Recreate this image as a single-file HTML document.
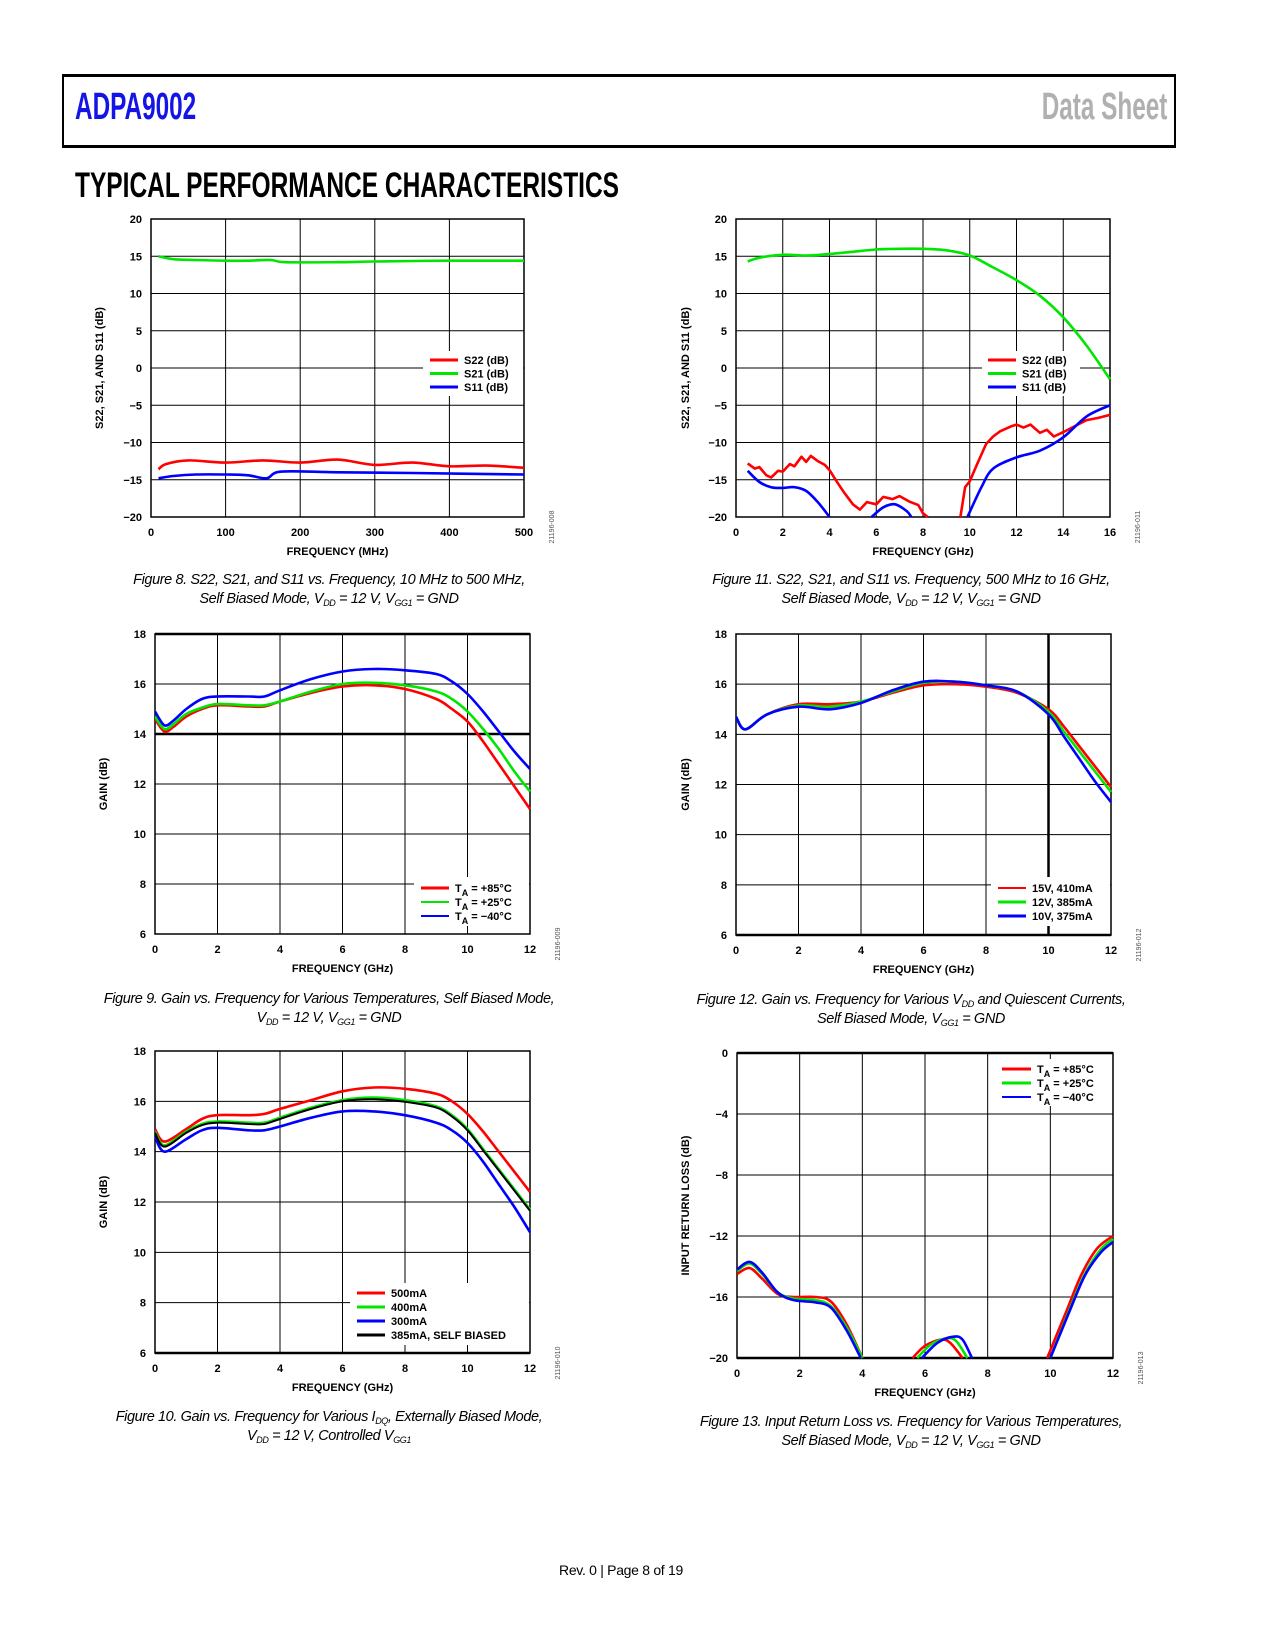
<!DOCTYPE html>
<html><head><meta charset="utf-8">
<style>
body{margin:0;background:#fff;}
#page{position:relative;width:1275px;height:1650px;overflow:hidden;background:#fff;font-family:"Liberation Sans",sans-serif;}
.hdr{position:absolute;left:62px;top:74px;width:1110px;height:68px;border:3px solid #000;border-left-width:2px;border-right-width:2px;}
.cond{display:inline-block;transform-origin:left center;font-weight:bold;}
.cap{position:absolute;width:560px;text-align:center;font-family:"Liberation Sans",sans-serif;font-style:italic;font-size:14.5px;line-height:18.5px;letter-spacing:-0.4px;color:#000;}
.cap sub{font-size:9px;vertical-align:-3px;line-height:0;}
svg text{font-family:"Liberation Sans",sans-serif;}
</style></head><body>
<div id="page">
<div class="hdr"></div>
<div style="position:absolute;left:75px;top:86px;font-size:38px;color:#1414e6;"><span class="cond" style="transform:scaleX(0.64);">ADPA9002</span></div>
<div style="position:absolute;right:108px;top:86px;font-size:38px;color:#b0b0b0;"><span class="cond" style="transform:scaleX(0.64);transform-origin:right center;">Data Sheet</span></div>
<div style="position:absolute;left:75px;top:166px;font-size:35px;color:#000;white-space:nowrap;"><span class="cond" style="transform:scaleX(0.70);">TYPICAL PERFORMANCE CHARACTERISTICS</span></div>

<svg id="charts" width="1275" height="1650" style="position:absolute;left:0;top:0;"></svg>

<div class="cap" style="left:49px;top:571px;">Figure 8. S22, S21, and S11 vs. Frequency, 10 MHz to 500 MHz,<br>Self Biased Mode, V<sub>DD</sub> = 12 V, V<sub>GG1</sub> = GND</div>
<div class="cap" style="left:631px;top:571px;">Figure 11. S22, S21, and S11 vs. Frequency, 500 MHz to 16 GHz,<br>Self Biased Mode, V<sub>DD</sub> = 12 V, V<sub>GG1</sub> = GND</div>
<div class="cap" style="left:49px;top:990px;">Figure 9. Gain vs. Frequency for Various Temperatures, Self Biased Mode,<br>V<sub>DD</sub> = 12 V, V<sub>GG1</sub> = GND</div>
<div class="cap" style="left:631px;top:991px;">Figure 12. Gain vs. Frequency for Various V<sub>DD</sub> and Quiescent Currents,<br>Self Biased Mode, V<sub>GG1</sub> = GND</div>
<div class="cap" style="left:49px;top:1408px;">Figure 10. Gain vs. Frequency for Various I<sub>DQ</sub>, Externally Biased Mode,<br>V<sub>DD</sub> = 12 V, Controlled V<sub>GG1</sub></div>
<div class="cap" style="left:631px;top:1413px;">Figure 13. Input Return Loss vs. Frequency for Various Temperatures,<br>Self Biased Mode, V<sub>DD</sub> = 12 V, V<sub>GG1</sub> = GND</div>
<div style="position:absolute;left:0;width:1242px;top:1562px;text-align:center;font-size:14px;letter-spacing:-0.3px;">Rev. 0 | Page 8 of 19</div>
</div>
<script>
// ---- Figure 8 data ----
const f8S21x=[10,30,60,100,130,160,180,250,300,400,500];
const f8S21y=[15,14.6,14.5,14.4,14.4,14.5,14.2,14.2,14.3,14.4,14.4];
const f8S22x=[10,20,50,100,150,200,250,300,350,400,450,500];
const f8S22y=[-13.6,-12.9,-12.4,-12.7,-12.4,-12.7,-12.3,-13.0,-12.7,-13.2,-13.1,-13.4];
const f8S11x=[10,30,60,100,130,155,175,250,350,500];
const f8S11y=[-14.8,-14.5,-14.3,-14.3,-14.4,-14.8,-13.9,-14.0,-14.1,-14.3];
const f8XTicks=[0,100,200,300,400,500];
const f8YTicks=[-20,-15,-10,-5,0,5,10,15,20];
const f8YLabels=["\u221220","\u221215","\u221210","\u22125","0","5","10","15","20"];
// ---- Figure 11 data ----
const f11S21x=[0.5,1,2,3,4,5,6,7,8,9,10,11,12,13,14,15,16];
const f11S21y=[14.3,14.8,15.2,15.1,15.3,15.6,15.9,16.0,16.0,15.8,15.1,13.5,11.8,9.7,6.8,3,-1.5];
const f11S22x=[0.5,0.8,1,1.3,1.5,1.8,2,2.3,2.5,2.8,3,3.2,3.5,3.8,4,4.3,4.6,5,5.3,5.6,6,6.3,6.7,7,7.4,7.8,8,8.2,null,9.6,9.8,10,10.3,10.7,11,11.3,11.8,12,12.3,12.6,13,13.3,13.6,14,14.5,15,15.5,16];
const f11S22y=[-12.8,-13.5,-13.3,-14.4,-14.7,-13.8,-13.9,-12.9,-13.2,-11.9,-12.6,-11.8,-12.5,-13.0,-13.7,-15.2,-16.6,-18.3,-19.0,-18.0,-18.3,-17.3,-17.6,-17.2,-17.9,-18.4,-19.5,-20,null,-20,-16,-15.2,-13,-10.2,-9.2,-8.5,-7.8,-7.6,-8.0,-7.6,-8.7,-8.3,-9.2,-8.6,-7.8,-7.0,-6.7,-6.3];
const f11S11x=[0.5,1,1.5,2,2.5,3,3.5,4,null,5.8,6.3,6.8,7.3,7.5,null,9.9,10.5,11,12,13,14,15,16];
const f11S11y=[-13.8,-15.3,-16.0,-16.1,-16.0,-16.5,-18,-20,null,-20,-18.7,-18.3,-19.2,-20,null,-20,-16,-13.5,-12,-11.1,-9.3,-6.5,-5];
const f11XTicks=[0,2,4,6,8,10,12,14,16];
// ---- Figure 9 data ----
const f9X=[0,0.3,0.6,1,1.5,2,3,3.5,4,5,6,7,8,9,9.5,10,10.5,11,11.5,12];
const f9Hot=[14.6,14.1,14.3,14.7,15.0,15.15,15.1,15.1,15.3,15.65,15.9,15.95,15.8,15.4,15.0,14.5,13.7,12.8,11.9,11.0];
const f9Room=[14.7,14.2,14.4,14.8,15.05,15.2,15.15,15.15,15.3,15.7,16.0,16.05,15.95,15.7,15.4,14.9,14.2,13.4,12.5,11.7];
const f9Cold=[14.9,14.35,14.55,15.0,15.4,15.5,15.5,15.5,15.75,16.2,16.5,16.6,16.55,16.4,16.1,15.6,14.9,14.1,13.3,12.6];
const gainXTicks=[0,2,4,6,8,10,12];
const gainYTicks=[6,8,10,12,14,16,18];
// ---- Figure 12 data ----
const f12X=[0,0.3,1,2,3,4,5,6,7,8,9,10,10.5,11,11.5,12];
const f12V15=[14.7,14.2,14.8,15.2,15.2,15.3,15.65,15.95,16.0,15.9,15.65,15.0,14.3,13.5,12.7,11.9];
const f12V12=[14.7,14.2,14.8,15.15,15.1,15.3,15.7,16.05,16.1,15.95,15.7,14.9,14.1,13.3,12.5,11.7];
const f12V10=[14.7,14.2,14.8,15.1,15.0,15.25,15.75,16.1,16.1,15.95,15.7,14.8,13.9,13.0,12.1,11.3];
// ---- Figure 10 data ----
const f10X=[0,0.3,1,1.5,2,3,3.5,4,5,6,7,8,9,9.5,10,10.5,11,11.5,12];
const f10I500=[14.9,14.4,14.9,15.3,15.45,15.45,15.5,15.7,16.05,16.4,16.55,16.5,16.3,16.0,15.5,14.8,14.0,13.2,12.4];
const f10I400=[14.8,14.25,14.8,15.1,15.2,15.15,15.15,15.35,15.75,16.05,16.15,16.05,15.8,15.45,14.9,14.1,13.3,12.5,11.7];
const f10I300=[14.6,14.0,14.5,14.85,14.95,14.85,14.85,15.0,15.35,15.6,15.6,15.45,15.15,14.85,14.35,13.6,12.7,11.8,10.8];
const f10Self=[14.75,14.2,14.75,15.05,15.15,15.1,15.1,15.3,15.7,16.0,16.08,15.98,15.75,15.4,14.85,14.05,13.25,12.45,11.65];
// ---- Figure 13 data ----
const f13HotX=[0,0.4,0.8,1.3,1.8,2.5,3,3.5,4,null,5.6,6,6.5,6.8,7.2,null,9.9,10.5,11,11.5,12];
const f13HotY=[-14.5,-14.1,-14.8,-15.8,-16.0,-16.0,-16.3,-17.8,-20,null,-20,-19.2,-18.8,-19,-20,null,-20,-17,-14.5,-12.8,-12.0];
const f13RoomX=[0,0.4,0.8,1.3,1.8,2.5,3,3.5,4,null,5.75,6.2,6.7,7.0,7.35,null,10,10.6,11.1,11.6,12];
const f13RoomY=[-14.3,-13.8,-14.5,-15.7,-16.1,-16.2,-16.6,-18,-20,null,-20,-19.1,-18.7,-18.9,-20,null,-20,-16.9,-14.5,-12.9,-12.2];
const f13ColdX=[0,0.4,0.8,1.3,1.8,2.5,3,3.5,3.95,null,5.9,6.4,6.9,7.2,7.5,null,10,10.6,11.1,11.6,12];
const f13ColdY=[-14.2,-13.7,-14.4,-15.7,-16.2,-16.35,-16.7,-18.2,-20,null,-20,-19.0,-18.6,-18.8,-20,null,-20,-17,-14.6,-13.1,-12.4];
const f13YTicks=[-20,-16,-12,-8,-4,0];
const f13YLabels=["\u221220","\u221216","\u221212","\u22128","\u22124","0"];

const NS="http://www.w3.org/2000/svg";
const root=document.getElementById('charts');
function mk(tag,attrs,parent){const e=document.createElementNS(NS,tag);for(const k in attrs)e.setAttribute(k,attrs[k]);(parent||root).appendChild(e);return e;}

function smoothPath(pts){
  if(pts.length<2)return '';
  let d='M'+pts[0][0].toFixed(1)+','+pts[0][1].toFixed(1);
  for(let i=0;i<pts.length-1;i++){
    const p0=pts[i-1]||pts[i],p1=pts[i],p2=pts[i+1],p3=pts[i+2]||p2;
    const c1x=p1[0]+(p2[0]-p0[0])/6,c1y=p1[1]+(p2[1]-p0[1])/6;
    const c2x=p2[0]-(p3[0]-p1[0])/6,c2y=p2[1]-(p3[1]-p1[1])/6;
    d+=' C'+c1x.toFixed(1)+','+c1y.toFixed(1)+' '+c2x.toFixed(1)+','+c2y.toFixed(1)+' '+p2[0].toFixed(1)+','+p2[1].toFixed(1);
  }
  return d;
}

function chart(c){
  const g=mk('g',{});
  
  
  const sx=v=>c.L+(v-c.x0)/(c.x1-c.x0)*(c.R-c.L);
  const sy=v=>c.B-(v-c.y0)/(c.y1-c.y0)*(c.B-c.T);
  c.xTicks.forEach((t,i)=>{
    const X=sx(t);
    const ln=mk('line',{x1:X,x2:X,y1:c.T,y2:c.B,stroke:'#000','stroke-width':(c.thickX&&c.thickX.includes(t))?2.5:1},g);
    
    
    const tx=mk('text',{x:X,y:c.B+19,'text-anchor':'middle','font-size':11,'font-weight':'bold'},g);
    
    
    tx.textContent=c.xLabels?c.xLabels[i]:String(t);
  });
  c.yTicks.forEach((t,i)=>{
    const Y=sy(t);
    const ln=mk('line',{x1:c.L,x2:c.R,y1:Y,y2:Y,stroke:'#000','stroke-width':(c.thickY&&c.thickY.includes(t))?2.5:1},g);
    
    
    const tx=mk('text',{x:c.L-9,y:Y+4,'text-anchor':'end','font-size':11,'font-weight':'bold'},g);
    
    
    tx.textContent=c.yLabels?c.yLabels[i]:String(t);
  });
  const fr=mk('rect',{x:c.L,y:c.T,width:c.R-c.L,height:c.B-c.T,fill:'none',stroke:'#000','stroke-width':1.5},g);
  
  
  const clip='clip-'+c.name;
  const cp=mk('clipPath',{id:clip},g);mk('rect',{x:c.L,y:c.T-2,width:c.R-c.L+2,height:c.B-c.T+4},cp);
  c.series.forEach(s=>{
    let segs=[[]];
    s.x.forEach((xv,i)=>{ if(xv===null||s.y[i]===null){segs.push([]);return;} segs[segs.length-1].push([sx(xv),sy(s.y[i])]); });
    let d='';
    segs.forEach(sg=>{ if(sg.length<2)return; d+= s.jag ? 'M'+sg.map(p=>p[0].toFixed(1)+','+p[1].toFixed(1)).join(' L') : smoothPath(sg); d+=' ';});
    const p=mk('path',{d:d,fill:'none',stroke:s.color,'stroke-width':s.w||2.6,'stroke-linejoin':'round','clip-path':'url(#'+clip+')'},g);
    
    
  });
  if(c.legend){
    const lg=c.legend;
    const bg=mk('rect',{x:lg.bx,y:lg.by,width:lg.bw,height:lg.bh,fill:'#fff'},g);
    
    
    c.series.forEach((s,i)=>{
      const y=lg.y+i*lg.dy;
      const ln=mk('line',{x1:lg.x,x2:lg.x+lg.len,y1:y,y2:y,stroke:s.color,'stroke-width':s.lw||3},g);
      
      
      const t=mk('text',{x:lg.x+lg.len+6,y:y+4,'font-size':11,'font-weight':'bold'},g);
      
      
      if(s.ta){ t.innerHTML='T<tspan font-size="9" dy="4">A</tspan><tspan dy="-4"> = '+s.label+'</tspan>'; }
      else t.textContent=s.label;
    });
  }
  const xt=mk('text',{x:(c.L+c.R)/2,y:c.B+38,'text-anchor':'middle','font-size':11,'font-weight':'bold'},g);
  
  
  xt.textContent=c.xTitle;
  const yx=c.yTitleX, yy=(c.T+c.B)/2;
  const yt=mk('text',{x:yx,y:yy,'text-anchor':'middle','font-size':11,'font-weight':'bold',transform:'rotate(-90 '+yx+' '+yy+')'},g);
  
  
  yt.textContent=c.yTitle;
  const fx=c.R+30, fy=c.B+10;
  const fid=mk('text',{x:fx,y:fy,'text-anchor':'middle','font-size':7,fill:'#555',transform:'rotate(-90 '+fx+' '+fy+')'},g);
  
  
  fid.textContent=c.fid;
}
const R='#ff0000',G='#00e600',B='#0000ff';
chart({name:'figure-8-chart',L:151,R:524,T:219,B:517,x0:0,x1:500,y0:-20,y1:20,xTicks:f8XTicks,yTicks:f8YTicks,yLabels:f8YLabels,
 xTitle:'FREQUENCY (MHz)',yTitle:'S22, S21, AND S11 (dB)',yTitleX:103,fid:'21196-008',
 series:[{id:'s22-line',x:f8S22x,y:f8S22y,color:R,label:'S22 (dB)'},{id:'s21-line',x:f8S21x,y:f8S21y,color:G,label:'S21 (dB)'},{id:'s11-line',x:f8S11x,y:f8S11y,color:B,label:'S11 (dB)'}],
 legend:{bx:423,by:351,bw:100,bh:45,x:430,y:360,dy:13.5,len:28}});
chart({name:'figure-11-chart',L:736,R:1110,T:219,B:517,x0:0,x1:16,y0:-20,y1:20,xTicks:f11XTicks,yTicks:f8YTicks,yLabels:f8YLabels,
 xTitle:'FREQUENCY (GHz)',yTitle:'S22, S21, AND S11 (dB)',yTitleX:689,fid:'21196-011',
 series:[{id:'s22-line',x:f11S22x,y:f11S22y,color:R,label:'S22 (dB)',jag:true},{id:'s21-line',x:f11S21x,y:f11S21y,color:G,label:'S21 (dB)'},{id:'s11-line',x:f11S11x,y:f11S11y,color:B,label:'S11 (dB)'}],
 legend:{bx:982,by:351,bw:98,bh:45,x:988,y:360,dy:13.5,len:28}});
chart({name:'figure-9-chart',L:155,R:530,T:634,B:934,x0:0,x1:12,y0:6,y1:18,xTicks:gainXTicks,yTicks:gainYTicks,thickY:[18,14],
 xTitle:'FREQUENCY (GHz)',yTitle:'GAIN (dB)',yTitleX:107,fid:'21196-009',
 series:[{id:'ta-85c-line',x:f9X,y:f9Hot,color:R,label:'+85°C',ta:1},{id:'ta-25c-line',x:f9X,y:f9Room,color:G,label:'+25°C',ta:1,lw:2},{id:'ta-minus40c-line',x:f9X,y:f9Cold,color:B,label:'\u221240°C',ta:1,lw:2}],
 legend:{bx:414,by:877,bw:115,bh:49,x:421,y:888,dy:14,len:28}});
chart({name:'figure-12-chart',L:736,R:1111,T:634,B:935,x0:0,x1:12,y0:6,y1:18,xTicks:gainXTicks,yTicks:gainYTicks,thickX:[10],thickY:[6],
 xTitle:'FREQUENCY (GHz)',yTitle:'GAIN (dB)',yTitleX:689,fid:'21196-012',
 series:[{id:'v15-410ma-line',x:f12X,y:f12V15,color:R,label:'15V, 410mA',lw:2},{id:'v12-385ma-line',x:f12X,y:f12V12,color:G,label:'12V, 385mA'},{id:'v10-375ma-line',x:f12X,y:f12V10,color:B,label:'10V, 375mA'}],
 legend:{bx:991,by:877,bw:119,bh:49,x:998,y:888,dy:14,len:28}});
chart({name:'figure-10-chart',L:155,R:530,T:1051,B:1353,x0:0,x1:12,y0:6,y1:18,xTicks:gainXTicks,yTicks:gainYTicks,thickY:[6],
 xTitle:'FREQUENCY (GHz)',yTitle:'GAIN (dB)',yTitleX:107,fid:'21196-010',
 series:[{id:'idq-500ma-line',x:f10X,y:f10I500,color:R,label:'500mA'},{id:'idq-400ma-line',x:f10X,y:f10I400,color:G,label:'400mA'},{id:'idq-300ma-line',x:f10X,y:f10I300,color:B,label:'300mA'},{id:'self-biased-385ma-line',x:f10X,y:f10Self,color:'#000',label:'385mA, SELF BIASED',w:2}],
 legend:{bx:350,by:1283,bw:179,bh:62,x:357,y:1293,dy:14,len:28}});
chart({name:'figure-13-chart',L:737,R:1113,T:1053,B:1358,x0:0,x1:12,y0:-20,y1:0,xTicks:gainXTicks,yTicks:f13YTicks,yLabels:f13YLabels,thickY:[0,-20],
 xTitle:'FREQUENCY (GHz)',yTitle:'INPUT RETURN LOSS (dB)',yTitleX:689,fid:'21196-013',
 series:[{id:'ta-85c-line',x:f13HotX,y:f13HotY,color:R,label:'+85°C',ta:1},{id:'ta-25c-line',x:f13RoomX,y:f13RoomY,color:G,label:'+25°C',ta:1},{id:'ta-minus40c-line',x:f13ColdX,y:f13ColdY,color:B,label:'\u221240°C',ta:1,lw:2}],
 legend:{bx:994,by:1059,bw:118,bh:47,x:1002,y:1069,dy:14,len:29}});
</script>
</body></html>
